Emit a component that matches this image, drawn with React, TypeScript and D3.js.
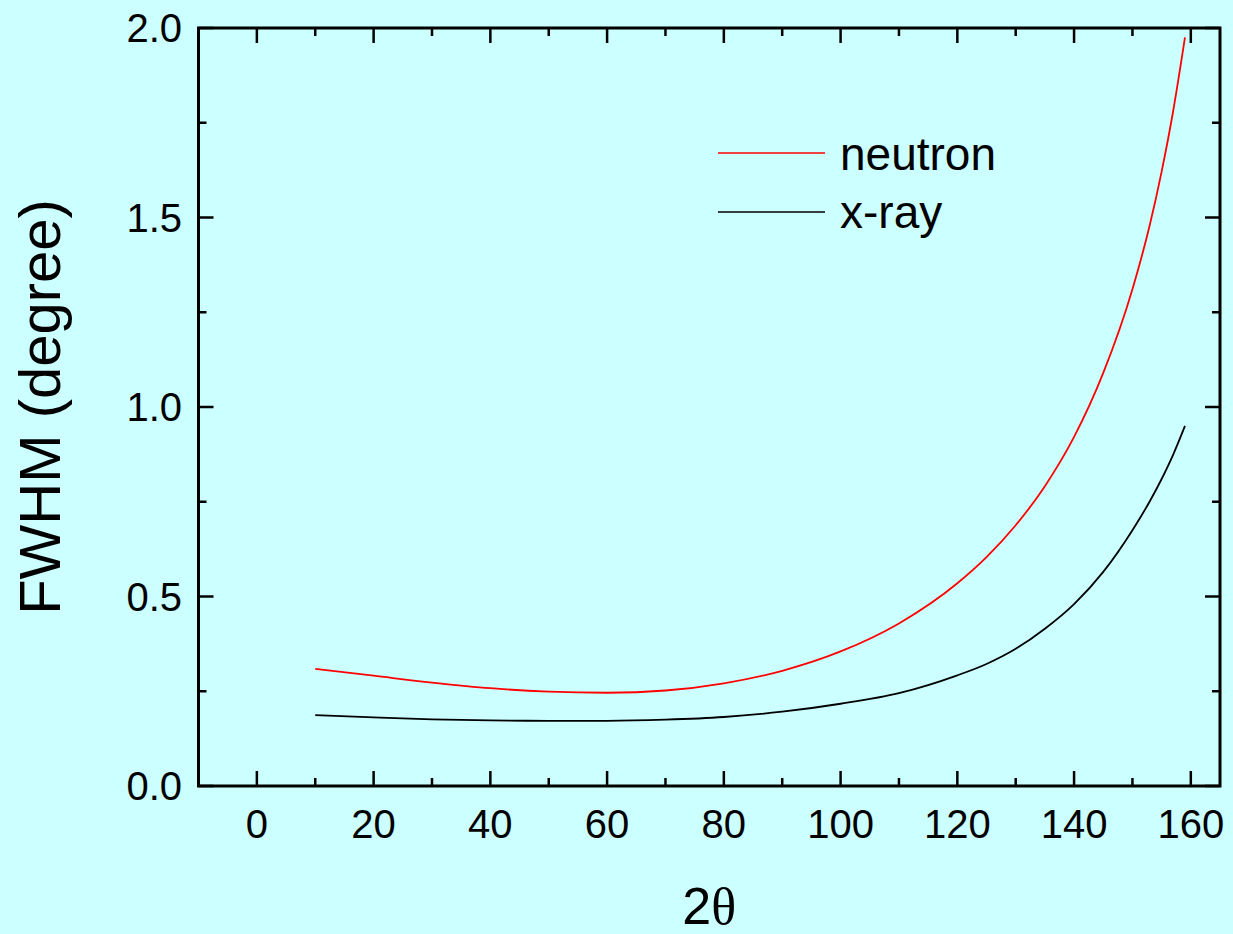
import React from "react";
import * as d3 from "d3";

// Scattering angle 2θ (degrees) at which FWHM was evaluated
const twoTheta = [10, 20, 30, 40, 50, 60, 70, 80, 90, 100, 110, 120, 125, 130, 135, 140, 145, 150, 153, 155, 157, 159];
// FWHM (degree) for the neutron instrument
const neutronFwhm = [0.309, 0.291, 0.273, 0.258, 0.249, 0.246, 0.252, 0.271, 0.304, 0.355, 0.429, 0.535, 0.604, 0.688, 0.791, 0.921, 1.09, 1.311, 1.482, 1.621, 1.783, 1.975];
// FWHM (degree) for the x-ray instrument
const xrayFwhm = [0.187, 0.181, 0.176, 0.173, 0.172, 0.172, 0.175, 0.182, 0.196, 0.217, 0.245, 0.292, 0.322, 0.362, 0.415, 0.48, 0.565, 0.675, 0.752, 0.81, 0.875, 0.95];

const xMajorTicks = [0, 20, 40, 60, 80, 100, 120, 140, 160];
const xMinorTicks = [-10, 10, 30, 50, 70, 90, 110, 130, 150];
const yMajorTicks = [0, 0.5, 1.0, 1.5, 2.0];
const yMinorTicks = [0.25, 0.75, 1.25, 1.75];

const seriesNames = ["neutron", "x-ray"];
const seriesColors = ["#ff0000", "#000000"];

const W = 1233;
const H = 934;
const left = 198.5;
const right = 1220;
const top = 28;
const bottom = 786;

const SANS = "'Liberation Sans', Arial, Helvetica, sans-serif";
const SERIF = "'Liberation Serif', 'Times New Roman', serif";

export default function App() {
  const x = d3.scaleLinear().domain([-10, 165]).range([left, right]);
  const y = d3.scaleLinear().domain([0, 2.0]).range([bottom, top]);

  const line = d3
    .line<[number, number]>()
    .x((d) => x(d[0]))
    .y((d) => y(d[1]))
    .curve(d3.curveMonotoneX);

  const series = [neutronFwhm, xrayFwhm].map((vals) =>
    twoTheta.map((t, i) => [t, vals[i]] as [number, number])
  );

  const majorLen = 15;
  const minorLen = 8;
  const fmtY = d3.format(".1f");

  return (
    <svg
      width={W}
      height={H}
      style={{ position: "absolute", left: 0, top: 0, display: "block" }}
    >
      <rect x={0} y={0} width={W} height={H} fill="#ccffff" />

      {/* data curves */}
      {series.map((pts, i) => (
        <path
          key={seriesNames[i]}
          d={line(pts) || ""}
          fill="none"
          stroke={seriesColors[i]}
          strokeWidth={1.8}
          strokeLinejoin="round"
        />
      ))}

      {/* ticks on all four sides, pointing inward */}
      <g stroke="#000" strokeWidth={2.5}>
        {xMajorTicks.map((t) => (
          <g key={"xm" + t}>
            <line x1={x(t)} x2={x(t)} y1={bottom} y2={bottom - majorLen} />
            <line x1={x(t)} x2={x(t)} y1={top} y2={top + majorLen} />
          </g>
        ))}
        {xMinorTicks.map((t) => (
          <g key={"xn" + t}>
            <line x1={x(t)} x2={x(t)} y1={bottom} y2={bottom - minorLen} />
            <line x1={x(t)} x2={x(t)} y1={top} y2={top + minorLen} />
          </g>
        ))}
        {yMajorTicks.map((t) => (
          <g key={"ym" + t}>
            <line x1={left} x2={left + majorLen} y1={y(t)} y2={y(t)} />
            <line x1={right} x2={right - majorLen} y1={y(t)} y2={y(t)} />
          </g>
        ))}
        {yMinorTicks.map((t) => (
          <g key={"yn" + t}>
            <line x1={left} x2={left + minorLen} y1={y(t)} y2={y(t)} />
            <line x1={right} x2={right - minorLen} y1={y(t)} y2={y(t)} />
          </g>
        ))}
      </g>

      {/* frame */}
      <rect
        x={left}
        y={top}
        width={right - left}
        height={bottom - top}
        fill="none"
        stroke="#000"
        strokeWidth={3}
      />

      {/* tick labels */}
      <g fontFamily={SANS} fontSize={40} fill="#000">
        {xMajorTicks.map((t) => (
          <text key={"xl" + t} x={x(t)} y={838} textAnchor="middle">
            {t}
          </text>
        ))}
        {yMajorTicks.map((t) => (
          <text key={"yl" + t} x={182} y={y(t)} dy="0.36em" textAnchor="end">
            {fmtY(t)}
          </text>
        ))}
      </g>

      {/* axis titles */}
      <text
        transform={`translate(60, ${(top + bottom) / 2}) rotate(-90)`}
        textAnchor="middle"
        fontFamily={SANS}
        fontSize={58}
        fill="#000"
      >
        FWHM (degree)
      </text>
      <text
        x={(left + right) / 2}
        y={924}
        textAnchor="middle"
        fontFamily={SANS}
        fontSize={52}
        fill="#000"
      >
        2<tspan fontFamily={SERIF}>θ</tspan>
      </text>

      {/* legend */}
      {seriesNames.map((name, i) => (
        <g key={"lg" + name}>
          <line
            x1={718}
            x2={825}
            y1={153 + i * 59}
            y2={153 + i * 59}
            stroke={seriesColors[i]}
            strokeWidth={1.5}
          />
          <text x={840} y={170 + i * 58} fontFamily={SANS} fontSize={46} fill="#000">
            {name}
          </text>
        </g>
      ))}
    </svg>
  );
}
